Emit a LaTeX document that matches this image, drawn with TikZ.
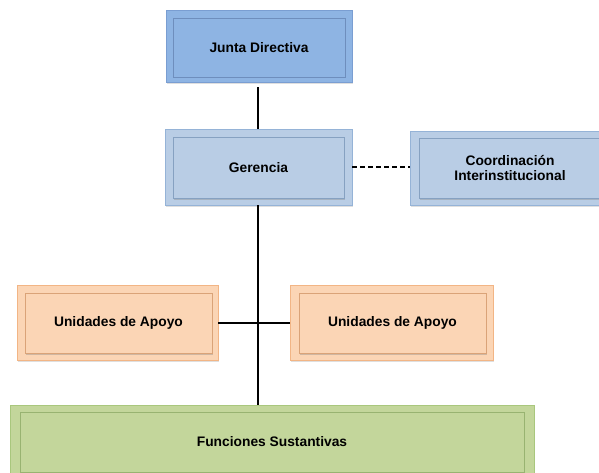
\documentclass[tikz,border=0pt]{standalone}
\usepackage{fontspec}
\setmainfont{Liberation Sans}
\usetikzlibrary{shadows}

\definecolor{jdfill}{HTML}{8EB4E3}
\definecolor{jdline}{HTML}{7A9ED2}
\definecolor{gefill}{HTML}{B9CDE5}
\definecolor{geline}{HTML}{95B3D7}
\definecolor{upfill}{HTML}{FBD5B5}
\definecolor{upline}{HTML}{F2B585}
\definecolor{fsfill}{HTML}{C3D69B}
\definecolor{fsline}{HTML}{A9C77D}

\tikzset{
  outerbox/.style={rectangle, draw=#1line, fill=#1fill, line width=0.8pt,
    inner sep=0pt, drop shadow={shadow xshift=1pt, shadow yshift=-2pt, opacity=0.25}},
  innerbox/.style={rectangle, draw=#1line!90!black, fill=#1fill, line width=0.6pt,
    inner sep=0pt, align=center, font=\bfseries\fontsize{13.8}{15.5}\selectfont,
    drop shadow={shadow xshift=0.5pt, shadow yshift=-1.5pt, opacity=0.35}},
  link/.style={line width=2pt, black},
  dlink/.style={line width=2pt, black, dash pattern=on 5pt off 3pt}
}

\begin{document}
\begin{tikzpicture}[x=1pt, y=-1pt]
  \useasboundingbox (0,0) rectangle (599,473);
  \clip (0,0) rectangle (599,473);

  % Junta Directiva
  \node[outerbox=jd, minimum width=186pt, minimum height=72pt] (jd) at (259,46) {};
  \node[innerbox=jd, minimum width=172pt, minimum height=59pt] (jdi) at (259,47.5) {Junta Directiva};

  % Gerencia
  \node[outerbox=ge, minimum width=187pt, minimum height=76pt] (ge) at (258.5,167) {};
  \node[innerbox=ge, minimum width=171pt, minimum height=61pt] (gei) at (258.5,167.5) {Gerencia};

  % Coordinación Interinstitucional
  \node[outerbox=ge, minimum width=200pt, minimum height=74pt] (ci) at (510,168) {};
  \node[innerbox=ge, minimum width=182pt, minimum height=60pt] (cii) at (510,168) {Coordinación\\Interinstitucional};

  % Unidades de Apoyo (left and right)
  \node[outerbox=up, minimum width=201pt, minimum height=75pt] (ua) at (117.5,322.5) {};
  \node[innerbox=up, minimum width=187pt, minimum height=60pt] (uai) at (118.5,323) {Unidades de Apoyo};
  \node[outerbox=up, minimum width=203pt, minimum height=75pt] (ub) at (391.5,322.5) {};
  \node[innerbox=up, minimum width=187pt, minimum height=60pt] (ubi) at (392.5,323) {Unidades de Apoyo};

  % Funciones Sustantivas
  \node[outerbox=fs, minimum width=524pt, minimum height=74pt] (fs) at (272,442) {};
  \node[innerbox=fs, minimum width=504pt, minimum height=60pt] (fsi) at (272,442) {Funciones Sustantivas};

  % connectors: one vertical spine at x = 258
  \coordinate (spinetop) at (258,0);
  \draw[link] (spinetop |- jd.south) ++(0,5) -- (spinetop |- ge.north);
  \draw[link] (spinetop |- ge.south) -- (spinetop |- fs.north);
  \draw[link] (ua.east) -- (ub.west);
  \draw[dlink] (ge.east) -- (ge.east -| ci.west);
\end{tikzpicture}
\end{document}
